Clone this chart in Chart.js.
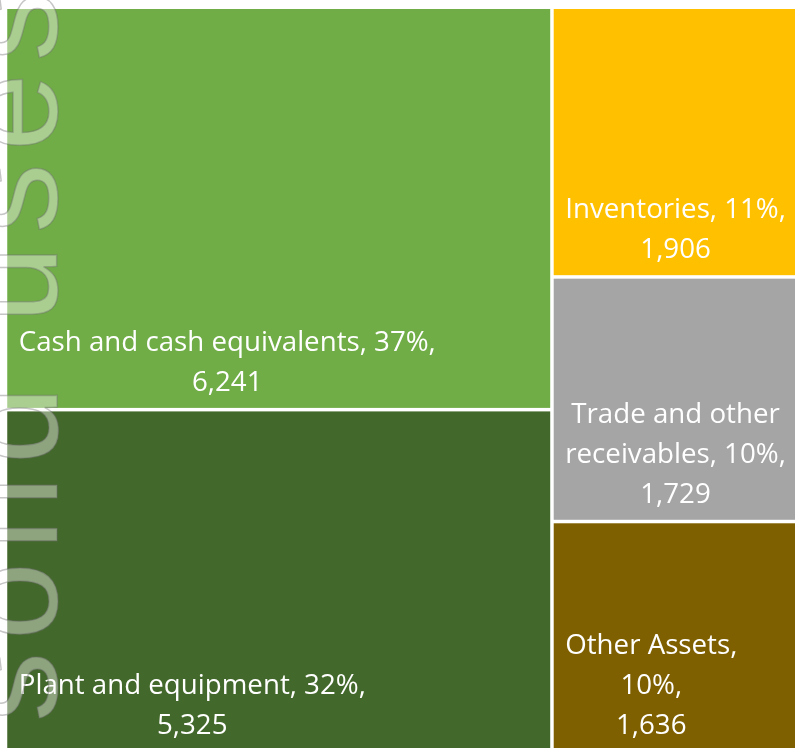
<!DOCTYPE html>
<html>
<head>
<meta charset="utf-8">
<script src="https://cdn.jsdelivr.net/npm/chart.js@4.4.1/dist/chart.umd.min.js"></script>
<style>
  html, body { margin: 0; padding: 0; background: #fff; overflow: hidden; }
  #wrap { position: absolute; left: 0; top: 0; width: 801px; height: 753px; }
</style>
</head>
<body>
<div id="wrap"><canvas id="chart"></canvas></div>
<script>
// treemap data (sorted largest first, like Excel)
const categories = ['Cash and cash equivalents', 'Plant and equipment', 'Inventories', 'Trade and other receivables', 'Other Assets'];
const values = [6241, 5325, 1906, 1729, 1636];
const colors = ['#70AD47', '#43682B', '#FFC000', '#A5A5A5', '#7F6000'];
const watermark = 'solid uses';

const total = values.reduce((a, b) => a + b, 0);

// squarified layout, returns rects as fractions of the area (0..1)
function squarify(vals, W, H) {
  const scale = (W * H) / total;
  const areas = vals.map(v => v * scale);
  const out = [];
  let x = 0, y = 0, w = W, h = H, i = 0;
  const worst = (row, side) => {
    const s = row.reduce((a, b) => a + b, 0);
    return Math.max(...row.map(r => Math.max(side * side * r / (s * s), (s * s) / (side * side * r))));
  };
  while (i < areas.length) {
    const side = Math.min(w, h);
    const row = [areas[i++]];
    while (i < areas.length && worst(row.concat(areas[i]), side) <= worst(row, side)) row.push(areas[i++]);
    const s = row.reduce((a, b) => a + b, 0);
    if (w >= h) {
      const cw = s / h;
      let yy = y;
      row.forEach(a => { out.push({ x0: x, y0: yy, x1: x + cw, y1: yy + a / cw }); yy += a / cw; });
      x += cw; w -= cw;
    } else {
      const rh = s / w;
      let xx = x;
      row.forEach(a => { out.push({ x0: xx, y0: y, x1: xx + a / rh, y1: y + rh }); xx += a / rh; });
      y += rh; h -= rh;
    }
  }
  return out.map(r => ({ x0: r.x0 / W, y0: r.y0 / H, x1: r.x1 / W, y1: r.y1 / H }));
}

function wrapText(ctx, text, maxW) {
  const words = text.split(' ');
  const lines = [];
  let cur = '';
  words.forEach(wd => {
    const test = cur ? cur + ' ' + wd : wd;
    if (cur && ctx.measureText(test).width > maxW) { lines.push(cur); cur = wd; }
    else cur = test;
  });
  if (cur) lines.push(cur);
  return lines;
}

const gap = 1.75;

const treemapPlugin = {
  id: 'treemap',
  beforeDatasetsDraw(chart) {
    const { ctx, chartArea, scales } = chart;
    const rects = squarify(values, chartArea.width, chartArea.height);
    ctx.save();
    rects.forEach((r, i) => {
      const left = scales.x.getPixelForValue(r.x0) + gap;
      const right = scales.x.getPixelForValue(r.x1) - gap;
      const top = scales.y.getPixelForValue(r.y0) + gap;
      const bottom = scales.y.getPixelForValue(r.y1) - gap;
      ctx.fillStyle = colors[i];
      ctx.fillRect(left, top, right - left, bottom - top);

      // label: name, pct on wrapped lines, value on last line
      ctx.font = '27.7px "Open Sans"';
      ctx.fillStyle = '#ffffff';
      ctx.textBaseline = 'alphabetic';
      ctx.textAlign = 'center';
      const pct = Math.round(values[i] / total * 100) + '%';
      const lines = wrapText(ctx, categories[i] + ', ' + pct + ',', right - left - 20);
      lines.push(values[i].toLocaleString('en-US'));
      const blockW = Math.max(...lines.map(l => ctx.measureText(l).width));
      const cx = left + 11.5 + blockW / 2;
      let by = bottom - 17 - (lines.length - 1) * 40;
      lines.forEach(l => { ctx.fillText(l, cx, by); by += 40; });
    });
    ctx.restore();
  },
  afterDraw(chart) {
    const { ctx } = chart;
    ctx.save();
    ctx.translate(57, 722);
    ctx.rotate(-Math.PI / 2);
    ctx.font = '140px "Liberation Sans"';
    ctx.letterSpacing = '12px';
    ctx.textAlign = 'left';
    ctx.textBaseline = 'alphabetic';
    ctx.fillStyle = 'rgba(255,255,255,0.4)';
    ctx.fillText(watermark, 0, 0);
    ctx.strokeStyle = 'rgba(110,110,110,0.4)';
    ctx.lineWidth = 1.5;
    ctx.strokeText(watermark, 0, 0);
    ctx.restore();
  }
};

new Chart(document.getElementById('chart'), {
  type: 'scatter',
  data: { datasets: [] },
  options: {
    responsive: true,
    maintainAspectRatio: false,
    animation: false,
    layout: { padding: { left: 5.5, top: 7.25, right: 0, bottom: 0 } },
    plugins: { legend: { display: false }, tooltip: { enabled: false } },
    scales: {
      x: { type: 'linear', min: 0, max: 1, display: false },
      y: { type: 'linear', min: 0, max: 1, reverse: true, display: false }
    }
  },
  plugins: [treemapPlugin]
});
</script>
</body>
</html>
